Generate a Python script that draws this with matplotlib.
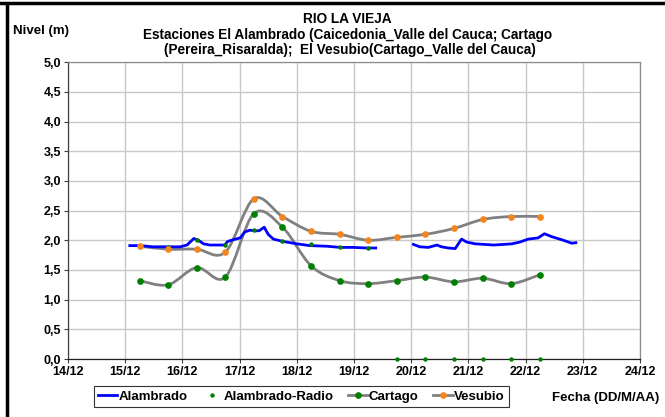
import numpy as np
import matplotlib
matplotlib.use("Agg")
import matplotlib.pyplot as plt
from matplotlib.path import Path
from matplotlib.patches import PathPatch
from matplotlib.lines import Line2D

plt.rcParams['font.family'] = ['Liberation Sans', 'DejaVu Sans']
plt.rcParams['font.weight'] = 'bold'

# day of December (fractional)
alambrado_t = [15.08, 15.26, 15.49, 15.73, 15.96, 16.08, 16.20, 16.28, 16.37, 16.48,
               16.66, 16.74, 16.79, 16.89, 17.01, 17.09, 17.18, 17.27, 17.34, 17.43,
               17.50, 17.59, 17.76, 18.00, 18.23, 18.52, 18.76, 18.99, 19.22, 19.38,
               19.70,
               20.04, 20.15, 20.30, 20.45, 20.53, 20.65, 20.77, 20.88, 20.97, 21.12,
               21.29, 21.44, 21.61, 21.76, 21.90, 22.05, 22.22, 22.33, 22.46, 22.63,
               22.81, 22.88]
alambrado_v = [1.91, 1.91, 1.89, 1.89, 1.89, 1.92, 2.03, 2.00, 1.94, 1.92,
               1.92, 1.92, 1.98, 2.01, 2.04, 2.14, 2.17, 2.16, 2.16, 2.22,
               2.10, 2.02, 1.98, 1.94, 1.91, 1.90, 1.88, 1.88, 1.87, 1.87,
               np.nan,
               1.93, 1.89, 1.88, 1.92, 1.89, 1.87, 1.86, 2.02, 1.97, 1.94,
               1.93, 1.92, 1.93, 1.94, 1.97, 2.02, 2.04, 2.11, 2.06, 2.01,
               1.95, 1.96]

obs_t = [15.25, 15.75, 16.25, 16.75, 17.25, 17.75, 18.25, 18.75, 19.25, 19.75,
         20.25, 20.75, 21.25, 21.75, 22.25]
radio_v = [1.90, 1.89, 2.00, 1.92, 2.17, 1.98, 1.93, 1.89, 1.87, 0.0,
           0.0, 0.0, 0.0, 0.0, 0.0]
cartago_v = [1.32, 1.25, 1.54, 1.38, 2.45, 2.22, 1.57, 1.32, 1.27, 1.32,
             1.38, 1.30, 1.36, 1.27, 1.42]
vesubio_v = [1.90, 1.85, 1.85, 1.80, 2.70, 2.40, 2.15, 2.10, 2.00, 2.05,
             2.10, 2.20, 2.35, 2.40, 2.40]

x_ticks = [14, 15, 16, 17, 18, 19, 20, 21, 22, 23, 24]
x_labels = ['14/12', '15/12', '16/12', '17/12', '18/12', '19/12', '20/12',
            '21/12', '22/12', '23/12', '24/12']
y_ticks = [0, 0.5, 1, 1.5, 2, 2.5, 3, 3.5, 4, 4.5, 5]

BLUE = '#0000ff'
GREEN = '#008000'
ORANGE = '#f5851f'
GRAY = '#808080'
FS = 9


def smooth_path(xs, ys):
    # Excel-style smoothed line: cubic bezier through the points
    pts = np.column_stack([xs, ys])
    n = len(pts)
    verts = [pts[0]]
    codes = [Path.MOVETO]
    for i in range(n - 1):
        p0 = pts[i - 1] if i > 0 else pts[i]
        p1 = pts[i]
        p2 = pts[i + 1]
        p3 = pts[i + 2] if i + 2 < n else pts[i + 1]
        c1 = p1 + (p2 - p0) / 6.0
        c2 = p2 - (p3 - p1) / 6.0
        verts += [c1, c2, p2]
        codes += [Path.CURVE4] * 3
    return Path(verts, codes)


fig = plt.figure(figsize=(6.65, 4.17), dpi=100)
ax = fig.add_axes([0.1023, 0.139, 0.86, 0.712])

ax.set_xlim(14, 24)
ax.set_ylim(0, 5)
ax.set_xticks(x_ticks)
ax.set_xticklabels(x_labels)
ax.set_yticks(y_ticks)
ax.set_yticklabels([f'{v:.1f}'.replace('.', ',') for v in y_ticks])
ax.grid(True, color='#c8c8c8', lw=1.0)
ax.set_axisbelow(True)
ax.tick_params(labelsize=FS, length=3, width=0.8, color='#404040', pad=2)
for lbl in ax.get_xticklabels() + ax.get_yticklabels():
    lbl.set_fontweight('bold')
ax.spines['left'].set_color('#404040')
ax.spines['bottom'].set_color('#202020')
ax.spines['top'].set_color('#8c8c8c')
ax.spines['right'].set_color('#8c8c8c')
for s in ax.spines.values():
    s.set_linewidth(0.9)

ax.plot(alambrado_t, alambrado_v, color=BLUE, lw=2.0, zorder=4)

for vals, mc in [(cartago_v, GREEN), (vesubio_v, ORANGE)]:
    ax.add_patch(PathPatch(smooth_path(obs_t, vals), facecolor='none',
                           edgecolor=GRAY, lw=2.0, zorder=3))
    ax.plot(obs_t, vals, ls='none', marker='o', ms=3.8, color=mc,
            mec=mc, zorder=6, clip_on=False)

ax.plot(obs_t, radio_v, ls='none', marker='o', ms=2.2, color=GREEN,
        zorder=5, clip_on=False)

# titles and labels
fig.text(0.523, 0.955, 'RIO LA VIEJA', ha='center', va='center',
         fontsize=9.8, fontweight='bold')
fig.text(0.523, 0.917, 'Estaciones El Alambrado (Caicedonia_Valle del Cauca; Cartago',
         ha='center', va='center', fontsize=9.8, fontweight='bold')
fig.text(0.526, 0.880, '(Pereira_Risaralda);  El Vesubio(Cartago_Valle del Cauca)',
         ha='center', va='center', fontsize=9.8, fontweight='bold')
fig.text(0.062, 0.926, 'Nivel (m)', ha='center', va='center',
         fontsize=9.5, fontweight='bold')
fig.text(0.911, 0.045, 'Fecha (DD/M/AA)', ha='center', va='center',
         fontsize=9.5, fontweight='bold')

handles = [
    Line2D([], [], color=BLUE, lw=2.0),
    Line2D([], [], ls='none', marker='o', ms=2.2, color=GREEN),
    Line2D([], [], color=GRAY, lw=2.0, marker='o', ms=3.8, mfc=GREEN, mec=GREEN),
    Line2D([], [], color=GRAY, lw=2.0, marker='o', ms=3.8, mfc=ORANGE, mec=ORANGE),
]
leg = fig.legend(handles, ['Alambrado', 'Alambrado-Radio', 'Cartago', 'Vesubio'],
                 loc='center', bbox_to_anchor=(0.453, 0.049), ncol=4,
                 fontsize=9.5, frameon=True, fancybox=False, edgecolor='black',
                 handlelength=1.5, handletextpad=0.1, columnspacing=1.1,
                 borderpad=0.3)
leg.get_frame().set_linewidth(0.8)
for t in leg.get_texts():
    t.set_fontweight('bold')

# outer chart frame (left and top edges)
fig.add_artist(Line2D([0.0105, 0.0105], [0.0, 0.99], transform=fig.transFigure,
                      color='black', lw=2.5))
fig.add_artist(Line2D([0.0, 1.0], [0.993, 0.993], transform=fig.transFigure,
                      color='black', lw=2.5))

fig.savefig('out.png', dpi=100)
